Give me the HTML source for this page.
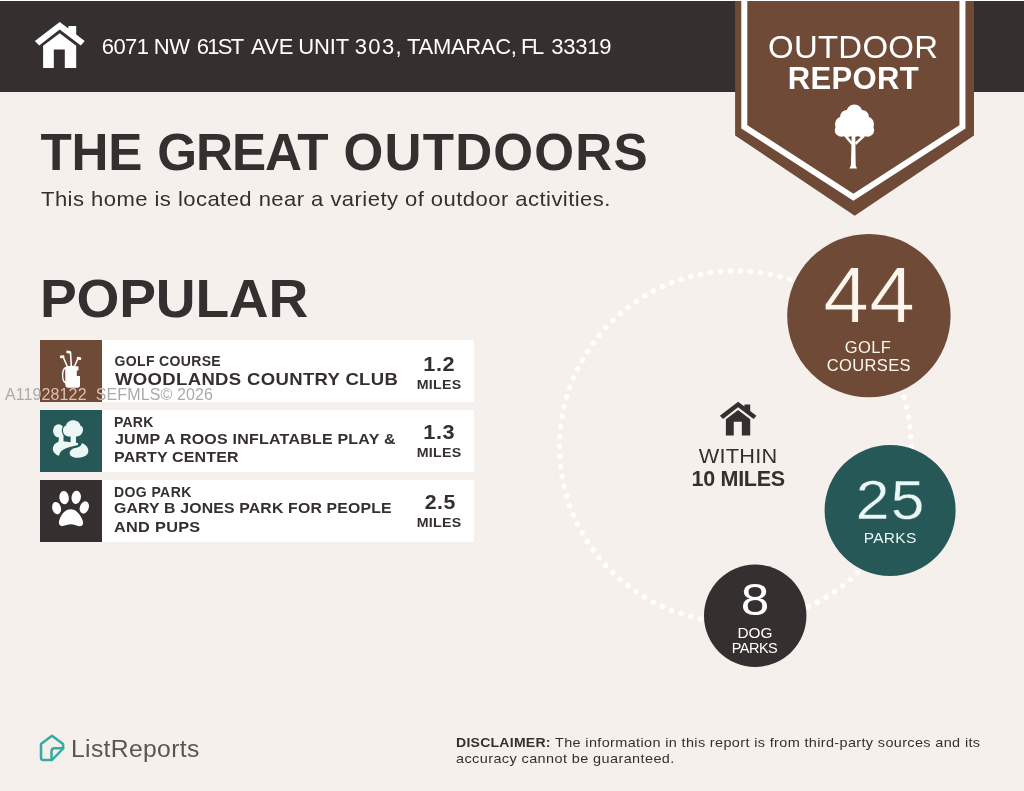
<!DOCTYPE html>
<html><head><meta charset="utf-8"><title>Outdoor Report</title>
<style>
*{margin:0;padding:0;box-sizing:border-box}
html,body{width:1024px;height:791px;overflow:hidden}
body{background:#f5f0ec;font-family:"Liberation Sans",sans-serif;color:#352f2f;position:relative}
.a{position:absolute}
.t{position:absolute;white-space:nowrap;line-height:1.2}
#hdr{left:0;top:1px;width:1024px;height:90.600px;background:#352f2f}
#topline{left:0;top:0;width:1024px;height:1px;background:#fff}
.row{left:40px;width:434px;height:62px;background:#fff}
.ico{left:40px;width:62px;height:62px;overflow:hidden}
.wm{position:absolute;white-space:nowrap;font-size:16px;line-height:18px;letter-spacing:0.120px}
#a1{left:101.75px;top:34.45px;font-size:22px;font-weight:normal;letter-spacing:-0.584px;color:#fff;}
#a2{left:153.8px;top:33.95px;font-size:22px;font-weight:normal;letter-spacing:-0.4px;color:#fff;}
#a3{left:196.75px;top:34.45px;font-size:22px;font-weight:normal;letter-spacing:-1.751px;color:#fff;}
#a4{left:251.05px;top:33.7px;font-size:22px;font-weight:normal;letter-spacing:0.025px;color:#fff;}
#a5{left:298.15px;top:34.45px;font-size:22px;font-weight:normal;letter-spacing:-0.116px;color:#fff;}
#a6{left:354.75px;top:34.45px;font-size:22px;font-weight:normal;letter-spacing:1.383px;color:#fff;}
#a7{left:407.0px;top:34.45px;font-size:22px;font-weight:normal;letter-spacing:-0.3px;color:#fff;}
#a8{left:521.1px;top:33.95px;font-size:22px;font-weight:normal;letter-spacing:-2.65px;color:#fff;}
#a9{left:551.25px;top:34.45px;font-size:22px;font-weight:normal;letter-spacing:-0.225px;color:#fff;}
#t1{left:40.55px;top:122.0px;font-size:51.2px;font-weight:bold;letter-spacing:-0.225px;color:#352f2f;}
#t2{left:157.15px;top:122.0px;font-size:51.2px;font-weight:bold;letter-spacing:-0.988px;color:#352f2f;}
#t3{left:343.55px;top:122.0px;font-size:51.2px;font-weight:bold;letter-spacing:1.193px;color:#352f2f;}
#sub{left:40.8px;top:186.0px;font-size:21px;font-weight:normal;letter-spacing:0.422px;color:#352f2f;transform:scaleX(1.05);transform-origin:left center;}
#pop{left:39.7px;top:267.0px;font-size:53px;font-weight:bold;letter-spacing:-0.199px;color:#352f2f;transform:scaleX(1.04);transform-origin:left center;}
#c1{left:114.5px;top:353.0px;font-size:14px;font-weight:bold;letter-spacing:0.35px;color:#352f2f;}
#n1{left:115.0px;top:370.0px;font-size:17px;font-weight:bold;letter-spacing:0.305px;color:#352f2f;transform:scaleX(1.09);transform-origin:left center;}
#c2{left:114.0px;top:414.0px;font-size:14px;font-weight:bold;letter-spacing:0.217px;color:#352f2f;}
#n2a{left:115.0px;top:430.0px;font-size:15.5px;font-weight:bold;letter-spacing:0.23px;color:#352f2f;transform:scaleX(1.03);transform-origin:left center;}
#n2b{left:114.0px;top:448.0px;font-size:15.5px;font-weight:bold;letter-spacing:0.159px;color:#352f2f;transform:scaleX(1.03);transform-origin:left center;}
#c3{left:114.0px;top:484.0px;font-size:14px;font-weight:bold;letter-spacing:0.407px;color:#352f2f;}
#n3a{left:114.0px;top:499.0px;font-size:15.5px;font-weight:bold;letter-spacing:0.169px;color:#352f2f;transform:scaleX(1.02);transform-origin:left center;}
#n3b{left:114.0px;top:518.0px;font-size:15.5px;font-weight:bold;letter-spacing:0.286px;color:#352f2f;transform:scaleX(1.05);transform-origin:left center;}
#lr{left:70.5px;top:735.0px;font-size:23.5px;font-weight:normal;letter-spacing:0.33px;color:#5a5555;transform:scaleX(1.05);transform-origin:left center;}
#d1a{left:456.1px;top:735.0px;font-size:13.5px;font-weight:bold;letter-spacing:0.24px;color:#352f2f;transform:scaleX(1.04);transform-origin:left center;}
#d1b{left:554.95px;top:735.0px;font-size:13.5px;font-weight:normal;letter-spacing:0.34px;color:#352f2f;transform:scaleX(1.07);transform-origin:left center;}
#d2{left:455.75px;top:751.0px;font-size:13.5px;font-weight:normal;letter-spacing:0.384px;color:#352f2f;transform:scaleX(1.07);transform-origin:left center;}
#m1n{left:289.05px;width:300px;text-align:center;top:352.0px;font-size:20.5px;font-weight:bold;letter-spacing:0.55px;text-indent:0.55px;color:#352f2f;transform:scaleX(1.06);transform-origin:center center;}
#m1m{left:289.47px;width:300px;text-align:center;top:377.0px;font-size:13.5px;font-weight:bold;letter-spacing:0.311px;text-indent:0.311px;color:#352f2f;transform:scaleX(1.05);transform-origin:center center;}
#m2n{left:289.05px;width:300px;text-align:center;top:420.0px;font-size:20.5px;font-weight:bold;letter-spacing:0.55px;text-indent:0.55px;color:#352f2f;transform:scaleX(1.06);transform-origin:center center;}
#m2m{left:289.47px;width:300px;text-align:center;top:445.0px;font-size:13.5px;font-weight:bold;letter-spacing:0.311px;text-indent:0.311px;color:#352f2f;transform:scaleX(1.05);transform-origin:center center;}
#m3n{left:289.67px;width:300px;text-align:center;top:490.0px;font-size:20.5px;font-weight:bold;letter-spacing:0.425px;text-indent:0.425px;color:#352f2f;transform:scaleX(1.04);transform-origin:center center;}
#m3m{left:289.47px;width:300px;text-align:center;top:515.0px;font-size:13.5px;font-weight:bold;letter-spacing:0.311px;text-indent:0.311px;color:#352f2f;transform:scaleX(1.05);transform-origin:center center;}
#b1{left:703.21px;width:300px;text-align:center;top:29.0px;font-size:30.5px;font-weight:normal;letter-spacing:0.251px;text-indent:0.251px;color:#fff;transform:scaleX(1.08);transform-origin:center center;}
#b2{left:703.24px;width:300px;text-align:center;top:60.0px;font-size:31px;font-weight:bold;letter-spacing:0.37px;text-indent:0.37px;color:#fff;}
#k44{left:719.04px;width:300px;text-align:center;top:247.0px;font-size:79.7px;font-weight:normal;letter-spacing:0.4px;text-indent:0.4px;color:#fdf6ee;transform:scaleX(1.03);transform-origin:center center;-webkit-text-stroke:0.8px #6f4a37;}
#k44a{left:717.81px;width:300px;text-align:center;top:338.0px;font-size:16.5px;font-weight:normal;letter-spacing:0.318px;text-indent:0.318px;color:#fdf6ee;}
#k44b{left:718.66px;width:300px;text-align:center;top:356.0px;font-size:16.5px;font-weight:normal;letter-spacing:0.351px;text-indent:0.351px;color:#fdf6ee;}
#k25{left:739.88px;width:300px;text-align:center;top:466.0px;font-size:56.1px;font-weight:normal;letter-spacing:1.25px;text-indent:1.25px;color:#e9f6f4;transform:scaleX(1.08);transform-origin:center center;-webkit-text-stroke:0.4px #265858;}
#k25a{left:740.05px;width:300px;text-align:center;top:529.0px;font-size:15.5px;font-weight:normal;letter-spacing:0.265px;text-indent:0.265px;color:#e9f6f4;}
#k8{left:605.27px;width:300px;text-align:center;top:573.0px;font-size:45px;font-weight:normal;letter-spacing:-1.75px;text-indent:-1.75px;color:#fff;transform:scaleX(1.14);transform-origin:center center;}
#k8a{left:605.12px;width:300px;text-align:center;top:625.0px;font-size:14.5px;font-weight:normal;letter-spacing:0.05px;text-indent:0.05px;color:#fff;transform:scaleX(1.06);transform-origin:center center;}
#k8b{left:604.76px;width:300px;text-align:center;top:640.0px;font-size:14.5px;font-weight:normal;letter-spacing:-0.498px;text-indent:-0.498px;color:#fff;}
#w1{left:588.24px;width:300px;text-align:center;top:444.0px;font-size:20.5px;font-weight:normal;letter-spacing:0.25px;text-indent:0.25px;color:#352f2f;transform:scaleX(1.06);transform-origin:center center;}
#w2{left:588.3px;width:300px;text-align:center;top:467.0px;font-size:21.5px;font-weight:bold;letter-spacing:-0.306px;text-indent:-0.306px;color:#352f2f;}
</style></head><body>
<div class="a" id="hdr"></div>
<svg class="a" style="left:34px;top:21px" width="52" height="48" viewBox="0 0 52 48" fill="#fff"><path d="M25.700,0.9 L34.400,7.5 L34.400,4.9 L42.200,4.9 L42.200,13.5 L50.700,20 L46.800,24.4 L25.700,8.6 L5.200,24.4 L0.9,20 Z"/><path d="M9.100,24.800 L25.700,12.200 L42.200,24.800 L42.200,47 L30.800,47 L30.800,28.400 L19.800,28.400 L19.800,47 L9.100,47 Z"/></svg>

<svg class="a" style="left:730px;top:0" width="250" height="220" viewBox="730 0 250 220">
<path d="M735.100,0 L974,0 L974,135.400 L854.700,215.700 L735.100,135.400 Z" fill="#6f4a37"/>
<path d="M744.300,0 L744.300,126.750 L853.400,197.200 L962.450,126.750 L962.450,0" fill="none" stroke="#fff" stroke-width="6"/>
<g fill="#fff">
<circle cx="854.400" cy="112.500" r="8"/><circle cx="847" cy="117" r="7"/><circle cx="862" cy="117" r="7"/>
<circle cx="842.500" cy="124" r="7.5"/><circle cx="866.500" cy="124" r="7.500"/><circle cx="854.400" cy="122" r="11"/>
<circle cx="841.500" cy="130" r="6.8"/><circle cx="867.400" cy="130" r="6.8"/><circle cx="848" cy="131" r="6"/><circle cx="861" cy="131" r="6"/><circle cx="854.400" cy="130" r="7"/>
<path d="M851.700,135 L855.300,135 L855.700,165.500 L857,168.400 L849.300,168.400 L850.900,165.500 Z"/>
<path d="M844,136 L846.500,135 L852.500,142.500 L851.500,145 Z"/><path d="M863,135 L865,136.500 L856,145 L855,142.500 Z"/>
</g>
</svg>

<div class="a row" style="top:340px"></div>
<div class="a row" style="top:410px"></div>
<div class="a row" style="top:480px"></div>
<div class="wm" style="left:4.900px;top:386px;color:#acaaa9">A11928122&nbsp; SEFMLS© 2026</div>
<div class="a ico" style="top:340px;background:#6f4a37">
<svg class="a" style="left:0;top:0" width="62" height="62" viewBox="0 0 62 62">
<g fill="none" stroke="#fff" stroke-width="1.6" stroke-linecap="round">
<path d="M27.500,27 L23.300,17.300"/><path d="M31.300,26 L30.500,12.500"/><path d="M34.500,26 L38,18.500"/>
<path d="M26,27.500 C21.500,29 21.500,41 25.800,43" stroke-width="1.4"/>
</g>
<g fill="#fff">
<rect x="19.800" y="15.400" width="4.600" height="2.600" rx="1.200" transform="rotate(-10 22 16.500)"/>
<rect x="26.300" y="10.700" width="4.800" height="2.600" rx="1.200" transform="rotate(8 28.500 12)"/>
<rect x="36.700" y="17" width="4.600" height="2.800" rx="1.200" transform="rotate(10 39 18.500)"/>
<path d="M26.500,26.200 Q32,25.200 38.500,26.500 L38.500,30.500 L36.800,30.500 L36.800,36 L40,36 L40,45.600 Q40,47.700 38,47.700 L28,47.700 Q25.400,47.700 25.300,44.600 L25.200,29 Q25.200,27 26.500,26.200 Z"/>
</g>
</svg>
<div class="wm" style="left:-35.100px;top:46px;color:#dcc0ad">A11928122&nbsp; SEFMLS© 2026</div>
</div>
<div class="a ico" style="top:410px;background:#265858">
<svg class="a" style="left:0;top:0" width="62" height="62" viewBox="0 0 62 62" fill="#eaf7f5">
<ellipse cx="18.600" cy="20.800" rx="5.600" ry="6.600"/>
<path d="M19.300,25 L23.500,25 L23.500,32 L18.500,32 Z"/>
<g stroke="#265858" stroke-width="2.200" paint-order="stroke">
<path d="M33,10.200 C37,10.200 40,12.500 40.300,15.500 C43,16.500 43.600,19.500 42.600,22 C41.500,25.500 38,26.800 36,26.500 L36,33 L30.600,33 L30.600,26.500 C27,27 23.500,25 23,21.500 C22.500,18.500 24,16 26,15.500 C26.500,12.500 29.500,10.200 33,10.200 Z"/>
</g>
<path d="M19,31.500 C25,30.500 32,33.500 37.800,32.800 L38,35 C30,37.500 20.500,37.500 19,45.800 C12.500,44 10.500,37 16,33 Z"/>
<path d="M42,33 C47,35 50,40 47.500,44 C44,48.500 34,49 30.500,45.500 C28,42 31,38.500 35.500,38 C39.500,37.500 41.500,35.500 42,33 Z"/>
</svg>
</div>
<div class="a ico" style="top:480px;background:#352f2f">
<svg class="a" style="left:0;top:0" width="62" height="62" viewBox="0 0 62 62" fill="#fff">
<ellipse cx="16.600" cy="28.100" rx="4.300" ry="6.300" transform="rotate(-15 16.600 28.100)"/>
<ellipse cx="24.100" cy="17.600" rx="4.700" ry="6.600" transform="rotate(-8 24.100 17.600)"/>
<ellipse cx="36.200" cy="17.400" rx="4.700" ry="6.600" transform="rotate(8 36.200 17.400)"/>
<ellipse cx="44.300" cy="27.400" rx="4.400" ry="6.300" transform="rotate(20 44.300 27.400)"/>
<path d="M30.600,29.200 C36,29.200 40,34 42.500,40 C44,44 42.500,46.500 39.500,46.200 C36,45.800 34,44.300 31,44.300 C28,44.300 25.500,45.800 22.500,46 C19.500,46.200 18,43.500 19.500,39.500 C21.500,34 25.500,29.200 30.600,29.200 Z"/>
</svg>
</div>

<svg class="a" style="left:540px;top:220px" width="484" height="460" viewBox="540 220 484 460">
<circle cx="735.300" cy="446.600" r="175.800" fill="none" stroke="#fff" stroke-width="5.400" stroke-dasharray="0.010 10.030" stroke-linecap="round"/>
<circle cx="868.900" cy="315.600" r="81.700" fill="#6f4a37"/>
<circle cx="890.100" cy="510.400" r="65.500" fill="#265858"/>
<circle cx="755.200" cy="615.700" r="51.200" fill="#352f2f"/>
<g transform="translate(719.200,401) scale(0.735)" fill="#352f2f"><path d="M25.700,0.9 L34.400,7.5 L34.400,4.9 L42.200,4.9 L42.200,13.5 L50.700,20 L46.800,24.4 L25.700,8.6 L5.200,24.4 L0.9,20 Z"/><path d="M9.100,24.800 L25.700,12.200 L42.200,24.800 L42.200,47 L30.800,47 L30.800,28.400 L19.800,28.400 L19.800,47 L9.100,47 Z"/></g>
</svg>

<svg class="a" style="left:36px;top:730px" width="34" height="36" viewBox="36 730 34 36">
<g fill="none" stroke="#36aaa3" stroke-width="2.500" stroke-linejoin="round" stroke-linecap="round">
<path d="M41,744 L51.950,735.800 L63.100,744 L63.100,748.500 L52,760 L43.200,760 Q41,760 41,757.800 Z"/>
<path d="M63.100,748.300 L54.500,748.300 Q51.500,748.300 51.500,751.300 L51.500,759.500"/>
</g>
</svg>
<div class="t" id="a1">6071</div>
<div class="t" id="a2">NW</div>
<div class="t" id="a3">61ST</div>
<div class="t" id="a4">AVE</div>
<div class="t" id="a5">UNIT</div>
<div class="t" id="a6">303,</div>
<div class="t" id="a7">TAMARAC,</div>
<div class="t" id="a8">FL</div>
<div class="t" id="a9">33319</div>
<div class="t" id="t1">THE</div>
<div class="t" id="t2">GREAT</div>
<div class="t" id="t3">OUTDOORS</div>
<div class="t" id="sub">This home is located near a variety of outdoor activities.</div>
<div class="t" id="pop">POPULAR</div>
<div class="t" id="c1">GOLF COURSE</div>
<div class="t" id="n1">WOODLANDS COUNTRY CLUB</div>
<div class="t" id="c2">PARK</div>
<div class="t" id="n2a">JUMP A ROOS INFLATABLE PLAY &amp;</div>
<div class="t" id="n2b">PARTY CENTER</div>
<div class="t" id="c3">DOG PARK</div>
<div class="t" id="n3a">GARY B JONES PARK FOR PEOPLE</div>
<div class="t" id="n3b">AND PUPS</div>
<div class="t" id="lr">ListReports</div>
<div class="t" id="d1a">DISCLAIMER:</div>
<div class="t" id="d1b">The information in this report is from third-party sources and its</div>
<div class="t" id="d2">accuracy cannot be guaranteed.</div>
<div class="t" id="m1n">1.2</div>
<div class="t" id="m1m">MILES</div>
<div class="t" id="m2n">1.3</div>
<div class="t" id="m2m">MILES</div>
<div class="t" id="m3n">2.5</div>
<div class="t" id="m3m">MILES</div>
<div class="t" id="b1">OUTDOOR</div>
<div class="t" id="b2">REPORT</div>
<div class="t" id="k44">44</div>
<div class="t" id="k44a">GOLF</div>
<div class="t" id="k44b">COURSES</div>
<div class="t" id="k25">25</div>
<div class="t" id="k25a">PARKS</div>
<div class="t" id="k8">8</div>
<div class="t" id="k8a">DOG</div>
<div class="t" id="k8b">PARKS</div>
<div class="t" id="w1">WITHIN</div>
<div class="t" id="w2">10 MILES</div>
<div class="a" id="topline"></div>
</body></html>
